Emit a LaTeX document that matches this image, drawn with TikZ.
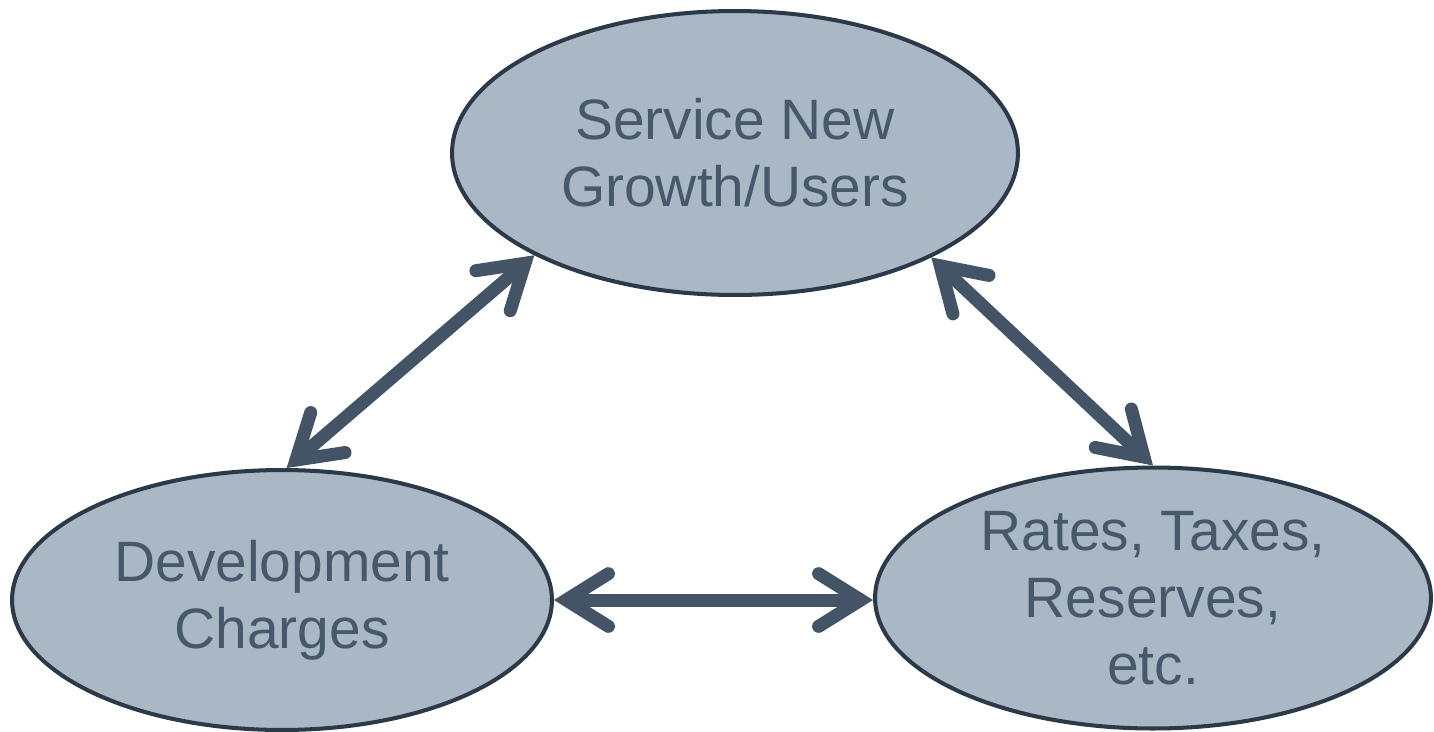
\documentclass[tikz,border=0pt]{standalone}
\usepackage{fontspec}
\setmainfont{Liberation Sans}
\usetikzlibrary{shapes,arrows.meta,positioning}
\definecolor{topicfill}{HTML}{AAB8C6}
\definecolor{topicline}{HTML}{2B3A48}
\definecolor{topictext}{HTML}{46586A}
\definecolor{linkcol}{HTML}{435466}
\tikzstyle{topic}=[ellipse,draw=topicline,fill=topicfill,line width=2.3pt,
  text=topictext,align=center,inner sep=0pt,
  font=\fontsize{32.4}{38}\selectfont]
\tikzstyle{link}=[draw=linkcol,line width=7.4pt,
  {Straight Barb[length=24pt,width=30pt,line cap=round]}-{Straight Barb[length=24pt,width=30pt,line cap=round]}]

\begin{document}
\begin{tikzpicture}[x=0.02cm,y=-0.02cm]
    \useasboundingbox (0,0) rectangle (1434,731);
    \node[topic,minimum width=11.32cm,minimum height=5.68cm] (growth) at (735,153) {Service New\\Growth/Users};
    \node[topic,minimum width=10.8cm,minimum height=5.2cm] (charges) at (282,600) {Development\\Charges};
    \node[topic,minimum width=11.12cm,minimum height=5.22cm] (rates) at (1153,598) {Rates, Taxes,\\Reserves,\\etc.};

    \draw[link] (charges.88) -- (growth.207);
    \draw[link] (growth.332) -- (rates.90);
    \draw[link] (charges.east) -- (charges.east -| rates.west);
  \end{tikzpicture}
\end{document}
